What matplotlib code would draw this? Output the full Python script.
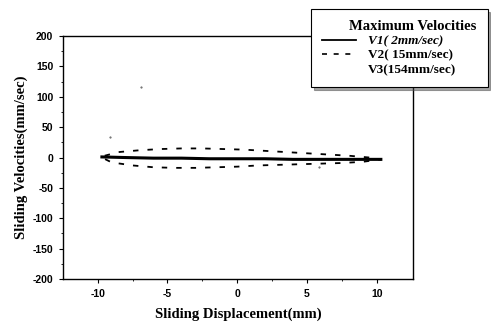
import matplotlib.pyplot as plt
from matplotlib.lines import Line2D

# V1 (2 mm/sec)
v1_disp = [-9.7, -8, -6, -4, -2, 0, 2, 4, 6, 8, 10.3]
v1_vel = [1, 0, -1, -1, -2, -2, -2, -3, -3, -3, -3]

# V2 (15 mm/sec) loop: forward stroke then return stroke
v2_disp = [-9.5, -8.5, -7, -5.5, -4, -2.5, -1, 0.5, 2, 3.5, 5, 6.5, 8, 9.5, 10.3,
           9, 7.5, 6, 4.5, 3, 1.5, 0, -1.5, -3, -4.5, -6, -7.5, -9, -9.7]
v2_vel = [3, 9, 12, 14, 15, 15, 14, 13, 11, 9, 7, 5, 3, 0, -3,
          -7, -9, -10, -11, -12, -13, -15, -16, -17, -17, -16, -13, -8, 0]

# V3 (154 mm/sec) - only a few faint points visible
v3_disp = [-6.9, -9.1, 5.9]
v3_vel = [116, 34, -16]

xticks = [-10, -5, 0, 5, 10]
yticks = [-200, -150, -100, -50, 0, 50, 100, 150, 200]

tick_font = {"family": "Liberation Sans", "weight": "bold", "size": 7.5}
label_font = {"family": "Liberation Serif", "weight": "bold", "size": 10.5}

fig = plt.figure(figsize=(4.91, 3.25), dpi=100)
ax = fig.add_axes([0.128, 0.1415, 0.713, 0.7475])

ax.plot(v1_disp, v1_vel, color="black", linewidth=2.2)
ax.plot(v2_disp, v2_vel, color="black", linewidth=1.3, linestyle=(0, (3, 5)))
ax.plot(v3_disp, v3_vel, color="#555555", linestyle="none", marker=".", markersize=1.0)

ax.set_xlim(-12.5, 12.6)
ax.set_ylim(-200, 200)
ax.set_xticks(xticks)
ax.set_yticks(yticks)
ax.set_xticks([-7.5, -2.5, 2.5, 7.5], minor=True)
ax.set_yticks(range(-175, 200, 50), minor=True)
ax.set_xticklabels([str(t) for t in xticks], fontdict=tick_font)
ax.set_yticklabels([str(t) for t in yticks], fontdict=tick_font)
ax.tick_params(direction="out", length=3, width=0.8, pad=4)
ax.tick_params(which="minor", direction="out", length=1.5, width=0.6)

for s in ax.spines.values():
    s.set_linewidth(1.0)

ax.set_xlabel("Sliding Displacement(mm)", fontdict=label_font, labelpad=6)
ax.set_ylabel("Sliding Velocities(mm/sec)", fontdict=label_font, labelpad=3)

handles = [
    Line2D([], [], color="black", linewidth=1.3),
    Line2D([], [], color="black", linewidth=1.2, linestyle=(0, (3, 4))),
    Line2D([], [], color="none"),
]
labels = ["V1( 2mm/sec)", "V2( 15mm/sec)", "V3(154mm/sec)"]
leg = fig.legend(handles, labels, title="Maximum Velocities",
                 loc="upper left", bbox_to_anchor=(0.633, 0.972, 0.36, 0), mode="expand",
                 borderaxespad=0,
                 prop={"family": "Liberation Serif", "weight": "bold", "size": 9.5},
                 title_fontproperties={"family": "Liberation Serif", "weight": "bold", "size": 10.5},
                 frameon=True, fancybox=False, shadow=True, borderpad=0.85,
                 handlelength=2.6, handletextpad=0.9, labelspacing=0.15, alignment="right")
leg.get_frame().set_edgecolor("black")
leg.get_frame().set_linewidth(0.8)
leg.get_texts()[0].set_style("italic")

fig.savefig("out.png", dpi=100)
